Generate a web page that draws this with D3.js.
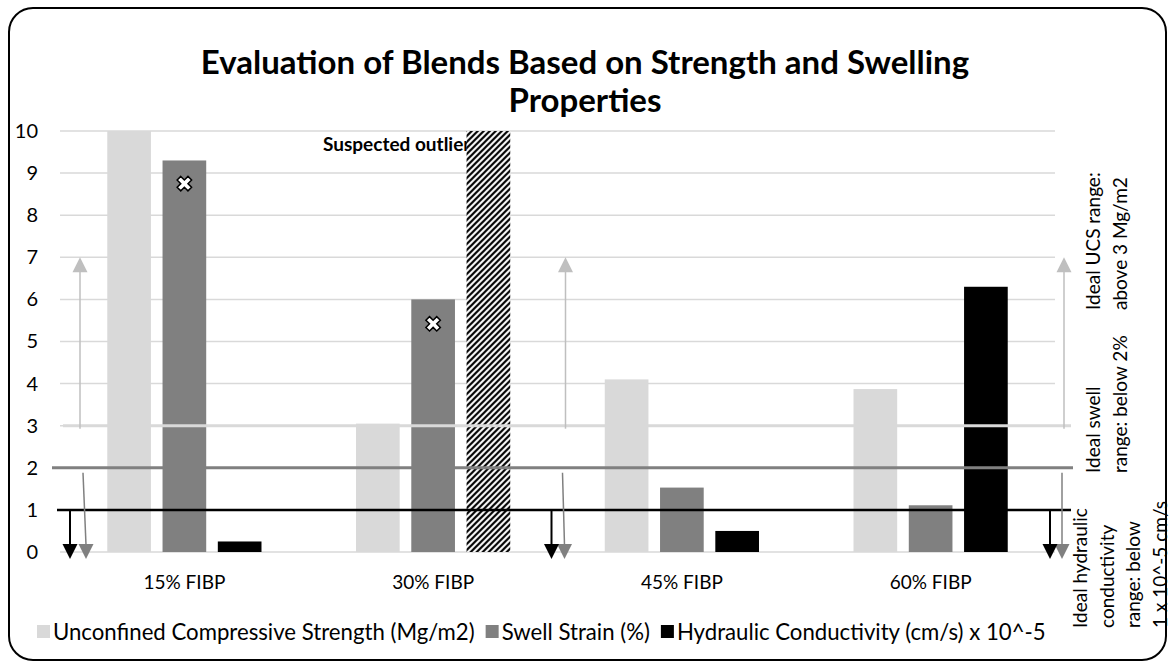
<!DOCTYPE html>
<html>
<head>
<meta charset="utf-8">
<script src="https://cdn.jsdelivr.net/npm/d3@7"></script>
<style>
  body { margin: 0; background: #fff; }
  svg { display: block; font-family: Lato, "Open Sans", sans-serif; }
</style>
</head>
<body>
<svg id="chart" width="1172" height="666"></svg>
<script>
// ---- data ----
const categories = ["15% FIBP", "30% FIBP", "45% FIBP", "60% FIBP"];
const seriesNames = [
  "Unconfined Compressive Strength (Mg/m2)",
  "Swell Strain (%)",
  "Hydraulic Conductivity (cm/s) x 10^-5"
];
const ucsValues = [10, 3.05, 4.1, 3.87];
const swellValues = [9.3, 6.0, 1.53, 1.11];
const hydraulicValues = [0.25, 10, 0.5, 6.3];
const suspectedOutlier = [false, true, false, false];
const swellMarkerValues = [8.75, 5.42, null, null];
const yTickValues = [0, 1, 2, 3, 4, 5, 6, 7, 8, 9, 10];

// ideal ranges
const ucsLimit = 3;
const swellLimit = 2;
const hydraulicLimit = 1;
const ucsArrowTip = 7;

const titleLines = ["Evaluation of Blends Based on Strength and Swelling", "Properties"];
const ucsNote = ["Ideal UCS range:", "above 3 Mg/m2"];
const swellNote = ["Ideal swell", "range: below 2%"];
const hydraulicNote = ["Ideal hydraulic", "conductivity", "range: below", "1 x 10^-5 cm/s"];

const colors = ["#d9d9d9", "#808080", "#000000"];

// ---- layout ----
const svg = d3.select("#chart");
const plot = { left: 60, right: 1055, top: 131, bottom: 552 };

const x = d3.scaleBand().domain(categories).range([plot.left, plot.right]);
const xInner = d3.scaleBand().domain(seriesNames)
  .range([x.bandwidth() * 0.19, x.bandwidth() * 0.81])
  .paddingInner(0.21);
const y = d3.scaleLinear().domain([0, 10]).range([plot.bottom, plot.top]);

// hatch for the suspected outlier
const defs = svg.append("defs");
const pat = defs.append("pattern").attr("id", "hatch")
  .attr("patternUnits", "userSpaceOnUse").attr("width", 6).attr("height", 6);
pat.append("rect").attr("width", 6).attr("height", 6).attr("fill", "#fff");
pat.append("path").attr("d", "M-1,1 l2,-2 M0,6 l6,-6 M5,7 l2,-2")
  .attr("stroke", "#000").attr("stroke-width", 2.2);

// outer frame
svg.append("rect").attr("x", 9).attr("y", 8).attr("width", 1157).attr("height", 652)
  .attr("rx", 24).attr("ry", 24).attr("fill", "#fff").attr("stroke", "#000").attr("stroke-width", 2);

// title
svg.append("g").selectAll("text").data(titleLines).join("text")
  .attr("x", 585).attr("y", (d, i) => 74 + i * 38)
  .attr("text-anchor", "middle").attr("font-weight", 700).attr("font-size", 33)
  .attr("fill", "#000").text(d => d);

// gridlines
svg.append("g").selectAll("line").data(yTickValues).join("line")
  .attr("x1", plot.left).attr("x2", plot.right)
  .attr("y1", d => y(d)).attr("y2", d => y(d))
  .attr("stroke", "#d9d9d9").attr("stroke-width", 1.5);

// y axis labels
const yAxis = svg.append("g").attr("transform", "translate(38,0)")
  .call(d3.axisLeft(y).tickValues(yTickValues).tickSize(0).tickPadding(0).tickFormat(d3.format("d")));
yAxis.select(".domain").remove();
yAxis.selectAll("text").attr("font-size", 20).attr("font-family", "Lato").attr("fill", "#000");

// x axis labels
const xAxis = svg.append("g").attr("transform", `translate(0,${plot.bottom})`)
  .call(d3.axisBottom(x).tickSize(0).tickPadding(24));
xAxis.select(".domain").remove();
xAxis.selectAll("text").attr("font-size", 19).attr("font-family", "Lato").attr("fill", "#000");

// outlier label (sits under the hatched bar)
svg.append("text").attr("x", 323).attr("y", 151)
  .attr("font-size", 19).attr("font-weight", 700).attr("fill", "#000")
  .text("Suspected outlier");

// bars
const rows = categories.map((c, i) => ({
  cat: c,
  vals: [ucsValues[i], swellValues[i], hydraulicValues[i]],
  outlier: suspectedOutlier[i]
}));
const clampTop = v => Math.min(v, 10);
svg.append("g").selectAll("g").data(rows).join("g")
  .attr("transform", d => `translate(${x(d.cat)},0)`)
  .selectAll("rect")
  .data(d => d.vals.map((v, j) => ({ v, j, outlier: d.outlier && j === 2 })))
  .join("rect")
  .attr("x", d => xInner(seriesNames[d.j]))
  .attr("width", xInner.bandwidth())
  .attr("y", d => y(clampTop(d.v)))
  .attr("height", d => y(0) - y(clampTop(d.v)))
  .attr("fill", d => d.outlier ? "url(#hatch)" : colors[d.j]);

// ideal-range lines
const limits = [
  { v: ucsLimit, color: "#d9d9d9", w: 3, x1: plot.left + 3, x2: plot.right + 16 },
  { v: swellLimit, color: "#808080", w: 3, x1: plot.left - 8, x2: plot.right + 18 },
  { v: hydraulicLimit, color: "#000000", w: 2.5, x1: plot.left - 3, x2: plot.right + 16 }
];
svg.append("g").selectAll("line").data(limits).join("line")
  .attr("x1", d => d.x1).attr("x2", d => d.x2)
  .attr("y1", d => y(d.v)).attr("y2", d => y(d.v))
  .attr("stroke", d => d.color).attr("stroke-width", d => d.w);

// arrows
function arrow(g, x0, x1, yFrom, yTip, color, width) {
  const dir = yTip < yFrom ? -1 : 1;
  const headLen = 15, headHalf = 7.5;
  g.append("line").attr("x1", x0).attr("x2", x1)
    .attr("y1", yFrom).attr("y2", yTip - dir * headLen + dir)
    .attr("stroke", color).attr("stroke-width", width);
  g.append("path")
    .attr("d", `M${x1},${yTip} L${x1 - headHalf},${yTip - dir * headLen} L${x1 + headHalf},${yTip - dir * headLen} Z`)
    .attr("fill", color);
}
const arrowsG = svg.append("g");
const bounds = [plot.left, x(categories[2]), plot.right];
const upOffsets = [20, 8, 9];
const swellOffsets = [[23, 26], [5, 7], [7, 7]];
const hydOffsets = [10, -6, -5];
bounds.forEach((b, i) => {
  arrow(arrowsG, b + upOffsets[i], b + upOffsets[i], y(ucsLimit) + 3, y(ucsArrowTip), "#bfbfbf", 1.5);
  arrow(arrowsG, b + swellOffsets[i][0], b + swellOffsets[i][1], y(swellLimit) + 5, y(0) + 7, "#808080", 1.5);
  arrow(arrowsG, b + hydOffsets[i], b + hydOffsets[i], y(hydraulicLimit), y(0) + 7, "#000000", 2);
});

// swell markers
svg.append("g").selectAll("path")
  .data(categories.map((c, i) => ({ c, v: swellMarkerValues[i] })).filter(d => d.v != null))
  .join("path")
  .attr("d", d3.symbol(d3.symbolCross, 130))
  .attr("transform", d => `translate(${x(d.c) + xInner(seriesNames[1]) + xInner.bandwidth() / 2},${y(d.v)}) rotate(45)`)
  .attr("fill", "#fff").attr("stroke", "#000").attr("stroke-width", 1.5);

// rotated notes on the right
function note(lines, baseX, startY) {
  svg.append("g").selectAll("text").data(lines).join("text")
    .attr("transform", (d, i) => `translate(${baseX + i * 26.5},${startY}) rotate(-90)`)
    .attr("font-size", 19).attr("fill", "#000").text(d => d);
}
note(ucsNote, 1100, 310);
note(swellNote, 1100, 473);
note(hydraulicNote, 1087, 628);

// legend
const legend = svg.append("g");
let lx = 37;
seriesNames.forEach((name, i) => {
  legend.append("rect").attr("x", lx).attr("y", 625).attr("width", 13).attr("height", 13).attr("fill", colors[i]);
  const t = legend.append("text").attr("x", lx + 16).attr("y", 640)
    .attr("font-size", 22.2).attr("fill", "#000").text(name);
  lx += 16 + t.node().getComputedTextLength() + 11;
});
</script>
</body>
</html>
